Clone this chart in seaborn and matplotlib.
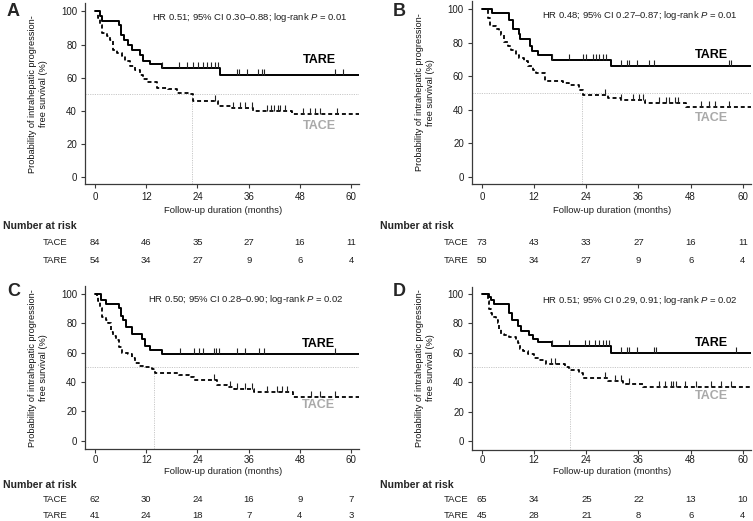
import numpy as np
import pandas as pd
import matplotlib
matplotlib.use("Agg")
import matplotlib.pyplot as plt
import matplotlib.transforms as mtransforms
from matplotlib.path import Path
import seaborn as sns

# ---------------- data ----------------
panels = ["A", "B", "C", "D"]
x_ticks = [0, 12, 24, 36, 48, 60]
y_ticks = [0, 20, 40, 60, 80, 100]

hr_text = {
    "A": "HR 0.51; 95% CI 0.30\u20130.88; log-rank $\\it{P}$ = 0.01",
    "B": "HR 0.48; 95% CI 0.27\u20130.87; log-rank $\\it{P}$ = 0.01",
    "C": "HR 0.50; 95% CI 0.28\u20130.90; log-rank $\\it{P}$ = 0.02",
    "D": "HR 0.51; 95% CI 0.29, 0.91; log-rank $\\it{P}$ = 0.02",
}
tace_median = {"A": 22.7, "B": 22.9, "C": 13.9, "D": 20.3}

A_TARE_t = [1.2, 1.6, 5.5, 6.0, 6.8, 7.8, 8.6, 10.5, 11.3, 12.9, 15.8, 29.3]
A_TARE_s = [97, 94, 92, 86, 83, 80, 77, 74, 70, 68.5, 66, 61.5]
A_TARE_c = [15.8, 19.7, 21.5, 23.0, 24.2, 25.2, 26.2, 27.1, 28.1, 28.9, 33.2, 33.8,
            35.5, 38.1, 39.1, 39.7, 56.3, 58.2]
A_TACE_t = [0.8, 1.2, 1.6, 2.8, 3.6, 4.3, 5.1, 6.3, 7.0, 8.2, 9.4, 10.5, 11.3, 12.1,
            14.5, 17.2, 19.1, 21.9, 22.9, 28.9, 32.0, 37.1, 46.1]
A_TACE_s = [96, 92, 87, 85, 83, 77, 75, 73, 70, 67, 64.5, 61.5, 59.5, 57.5, 54, 53,
            51, 50, 46, 43, 42, 40, 38]
A_TACE_c = [28.1, 32.4, 34.0, 35.2, 36.7, 40.2, 41.2, 42.0, 42.8, 43.4, 44.5, 48.8,
            50.4, 51.6, 52.7, 56.6]

B_TARE_t = [2.3, 6.3, 7.1, 8.4, 8.7, 11.0, 11.5, 12.8, 16.1, 29.7]
B_TARE_s = [98, 93.5, 88, 85, 82, 78, 75, 72.5, 70, 66]
B_TARE_c = [16.1, 20.1, 23.2, 23.9, 25.5, 26.2, 27.0, 27.8, 28.5, 32.0, 33.3, 33.9,
            35.7, 38.5, 39.5, 56.8, 57.2]
B_TACE_t = [1.3, 1.8, 3.2, 3.8, 4.4, 5.1, 5.9, 6.7, 7.8, 8.6, 9.7, 10.5, 11.7, 12.4,
            14.4, 18.6, 20.1, 22.4, 23.2, 28.9, 32.0, 37.4, 47.0]
B_TACE_s = [95, 90, 88, 87, 84.5, 80.5, 78, 75.5, 73, 71, 69, 66, 63.5, 62, 57.5, 56,
            55, 52, 49, 47, 46, 44, 41.5]
B_TACE_c = [28.4, 32.0, 34.7, 36.2, 37.0, 40.8, 42.4, 43.1, 44.3, 45.0, 50.4, 52.3,
            53.5, 56.9]

C_TARE_t = [1.4, 2.6, 5.5, 6.0, 6.5, 7.2, 8.6, 11.0, 11.7, 12.9, 15.8]
C_TARE_s = [96, 93, 90, 85, 82, 77, 72.5, 69, 64.5, 61.5, 59]
C_TARE_c = [20.0, 23.1, 24.3, 25.4, 27.8, 28.4, 29.0, 33.3, 35.2, 38.3, 39.5, 56.3]
C_TACE_t = [0.4, 0.8, 1.2, 1.6, 2.6, 3.1, 3.8, 4.3, 4.9, 5.5, 6.3, 7.8, 8.6, 9.4,
            10.2, 11.7, 13.3, 14.1, 19.6, 21.9, 23.1, 28.6, 30.9, 32.5, 37.2, 46.4]
C_TACE_s = [98, 95, 90, 84, 82, 80, 74, 71, 68.5, 64, 60, 59, 56.5, 53, 51, 50, 48.5,
            46, 45, 43.5, 41, 38, 36.5, 35, 33, 29.5]
C_TACE_c = [27.8, 31.7, 33.3, 35.2, 36.8, 40.3, 42.6, 43.8, 45.0, 50.5, 52.8, 56.3]

D_TARE_t = [1.5, 2.0, 2.8, 6.3, 6.9, 8.2, 9.0, 10.9, 11.7, 12.8, 16.1, 29.7]
D_TARE_s = [98, 96, 93, 87, 82, 78, 75, 72, 69.5, 67, 64.5, 60]
D_TARE_c = [16.1, 20.0, 23.6, 24.7, 25.9, 26.9, 27.8, 28.5, 29.3, 32.0, 33.3, 33.9,
            35.7, 39.5, 40.1, 58.5]
D_TACE_t = [1.3, 1.7, 2.0, 2.3, 3.2, 3.6, 4.0, 4.4, 5.1, 6.3, 7.8, 8.2, 8.7, 9.4,
            10.5, 12.0, 13.2, 14.7, 19.2, 20.1, 22.4, 23.2, 28.9, 32.4, 37.0]
D_TACE_s = [95, 90, 87, 84, 82, 80, 76, 73, 72, 71, 69, 66.5, 62.5, 61, 59, 56.5, 55,
            52.5, 50.5, 48.5, 46, 42.5, 41, 39, 36.5]
D_TACE_c = [15.9, 16.7, 28.4, 30.5, 32.0, 33.9, 40.8, 42.0, 43.4, 43.9, 44.7, 46.6,
            49.3, 52.7, 55.0, 57.3]

A_TACE_risk = [84, 46, 35, 27, 16, 11]
A_TARE_risk = [54, 34, 27, 9, 6, 4]
B_TACE_risk = [73, 43, 33, 27, 16, 11]
B_TARE_risk = [50, 34, 27, 9, 6, 4]
C_TACE_risk = [62, 30, 24, 16, 9, 7]
C_TARE_risk = [41, 24, 18, 7, 4, 3]
D_TACE_risk = [65, 34, 25, 22, 13, 10]
D_TARE_risk = [45, 28, 21, 8, 6, 4]

curves = {
    "A": {"TARE": (A_TARE_t, A_TARE_s, A_TARE_c), "TACE": (A_TACE_t, A_TACE_s, A_TACE_c)},
    "B": {"TARE": (B_TARE_t, B_TARE_s, B_TARE_c), "TACE": (B_TACE_t, B_TACE_s, B_TACE_c)},
    "C": {"TARE": (C_TARE_t, C_TARE_s, C_TARE_c), "TACE": (C_TACE_t, C_TACE_s, C_TACE_c)},
    "D": {"TARE": (D_TARE_t, D_TARE_s, D_TARE_c), "TACE": (D_TACE_t, D_TACE_s, D_TACE_c)},
}
risk = {
    "A": {"TACE": A_TACE_risk, "TARE": A_TARE_risk},
    "B": {"TACE": B_TACE_risk, "TARE": B_TARE_risk},
    "C": {"TACE": C_TACE_risk, "TARE": C_TARE_risk},
    "D": {"TACE": D_TACE_risk, "TARE": D_TARE_risk},
}

# ---------------- layout / style ----------------
W, H = 753, 521
XLIM = (-2.4, 61.8)
YTOP = 105
ybot = {"A": -4.1, "B": -4.2, "C": -5.8, "D": -5.8}
# pixel boxes: left, top, width, bottom
box = {
    "A": (84.8, 3.0, 274, 184.3),
    "B": (471.6, 0.9, 279, 184.0),
    "C": (84.8, 286.3, 274, 449.3),
    "D": (471.6, 286.6, 279, 449.5),
}
tick_pad = {"A": 2.6, "B": 2.6, "C": 1.0, "D": 1.0}
# pixel rows for table texts: xlabel, number-at-risk, TACE, TARE
rows = {"top": (210.7, 226, 242.7, 260.7), "bot": (471.7, 485, 500, 516)}
letter_pos = {"A": (7, 12), "B": (393, 12), "C": (7, 291), "D": (393, 291)}
nar_x = {"A": 3, "B": 380, "C": 3, "D": 380}
arm_label_x = {"A": 67, "B": 468, "C": 67, "D": 468}
ylab_x = {"A": 38, "B": 425, "C": 38, "D": 425}
label_pos = {
    "A": ((52.5, 70.5), (52.5, 31)),
    "B": ((52.9, 72.7), (52.9, 35)),
    "C": ((52.4, 66.0), (52.4, 24.3)),
    "D": ((52.9, 66.5), (52.9, 30.6)),
}
hr_pos = {"A": (36.3, 96.4), "B": (36.4, 96.0), "C": (35.4, 95.7), "D": (36.4, 95.5)}

sns.set_style("ticks")
plt.rcParams["font.family"] = ["Liberation Sans", "DejaVu Sans"]
plt.rcParams["mathtext.fontset"] = "custom"
plt.rcParams["mathtext.it"] = "Liberation Sans:italic"
plt.rcParams["mathtext.rm"] = "Liberation Sans"

SPINE = "#3a3a3a"
TXT = "#1e1e1e"
FS = 7.0
CENSOR = Path([(0, 0), (0, 1)], [Path.MOVETO, Path.LINETO])

fig = plt.figure(figsize=(W / 100, H / 100), dpi=100)


def step_frame(t, s, xmax):
    tt = [0.0] + list(t) + [xmax]
    ss = [100.0] + list(s) + [s[-1]]
    return pd.DataFrame({"time": tt, "surv": ss})


def censor_frame(t, s, c):
    t_arr = np.asarray([0.0] + list(t))
    s_arr = np.asarray([100.0] + list(s))
    idx = np.searchsorted(t_arr, np.asarray(c), side="right") - 1
    return pd.DataFrame({"time": c, "surv": s_arr[idx]})


for p in panels:
    l, t, w, b = box[p]
    ax = fig.add_axes([l / W, 1 - b / H, w / W, (b - t) / H])
    ax.set_xlim(*XLIM)
    ax.set_ylim(ybot[p], YTOP)

    # median reference lines
    ax.axhline(50, color="#c8c8c8", lw=0.7, ls=(0, (1.2, 1.2)), zorder=1)
    ax.vlines(tace_median[p], ybot[p], 50, color="#c8c8c8", lw=0.7,
              ls=(0, (1.2, 1.2)), zorder=1)

    for arm, ls, lw in (("TACE", (0, (2.2, 1.6)), 1.3), ("TARE", "-", 1.4)):
        tt, ss, cc = curves[p][arm]
        df = step_frame(tt, ss, XLIM[1])
        sns.lineplot(data=df, x="time", y="surv", ax=ax, estimator=None,
                     drawstyle="steps-post", color="black", lw=lw,
                     linestyle=ls, zorder=3)
        cf = censor_frame(tt, ss, cc)
        sns.scatterplot(data=cf, x="time", y="surv", ax=ax, marker=CENSOR,
                        s=75, linewidth=0.8, color="#222222",
                        edgecolor="#222222", zorder=4)

    (tx, ty), (cx, cy) = label_pos[p]
    ax.text(tx, ty, "TARE", ha="center", va="center", fontsize=9,
            fontweight="bold", color="black")
    ax.text(cx, cy, "TACE", ha="center", va="center", fontsize=9,
            fontweight="bold", color="#a9a9a9")
    hx, hy = hr_pos[p]
    ax.text(hx, hy, hr_text[p], ha="center", va="center", fontsize=6.8,
            color=TXT)

    ax.set_xticks(x_ticks)
    ax.set_yticks(y_ticks)
    ax.tick_params(axis="both", labelsize=FS, length=3, width=0.8,
                   color=SPINE, labelcolor=TXT, pad=2.6)
    ax.tick_params(axis="x", pad=tick_pad[p])
    ax.set_xlabel("")
    ax.set_ylabel("")
    sns.despine(ax=ax)
    for sp in ("left", "bottom"):
        ax.spines[sp].set_color(SPINE)
        ax.spines[sp].set_linewidth(0.9)

    # y label
    fig.text(ylab_x[p] / W, 1 - ((t + b) / 2) / H,
             "Probability of intrahepatic progression-\nfree survival (%)",
             rotation=90, ha="center", va="center", fontsize=6.6,
             multialignment="center", color="#111111", linespacing=1.15)

    # panel letter
    lx, ly = letter_pos[p]
    fig.text(lx / W, 1 - ly / H, p, ha="left", va="center", fontsize=13,
             fontweight="bold")

    # risk table
    rr = rows["top"] if p in ("A", "B") else rows["bot"]
    blend = mtransforms.blended_transform_factory(ax.transData, fig.transFigure)
    ax.text(30, 1 - rr[0] / H, "Follow-up duration (months)", transform=blend,
            ha="center", va="center", fontsize=6.8, color=TXT)
    fig.text(nar_x[p] / W, 1 - rr[1] / H, "Number at risk", ha="left",
             va="center", fontsize=7.6, fontweight="bold")
    for arm, yy in (("TACE", rr[2]), ("TARE", rr[3])):
        fig.text(arm_label_x[p] / W, 1 - yy / H, arm, ha="right", va="center",
                 fontsize=6.8, color=TXT)
        for xt, n in zip(x_ticks, risk[p][arm]):
            ax.text(xt, 1 - yy / H, str(n), transform=blend, ha="center",
                    va="center", fontsize=6.8, color=TXT)

fig.savefig("out.png", dpi=100)
